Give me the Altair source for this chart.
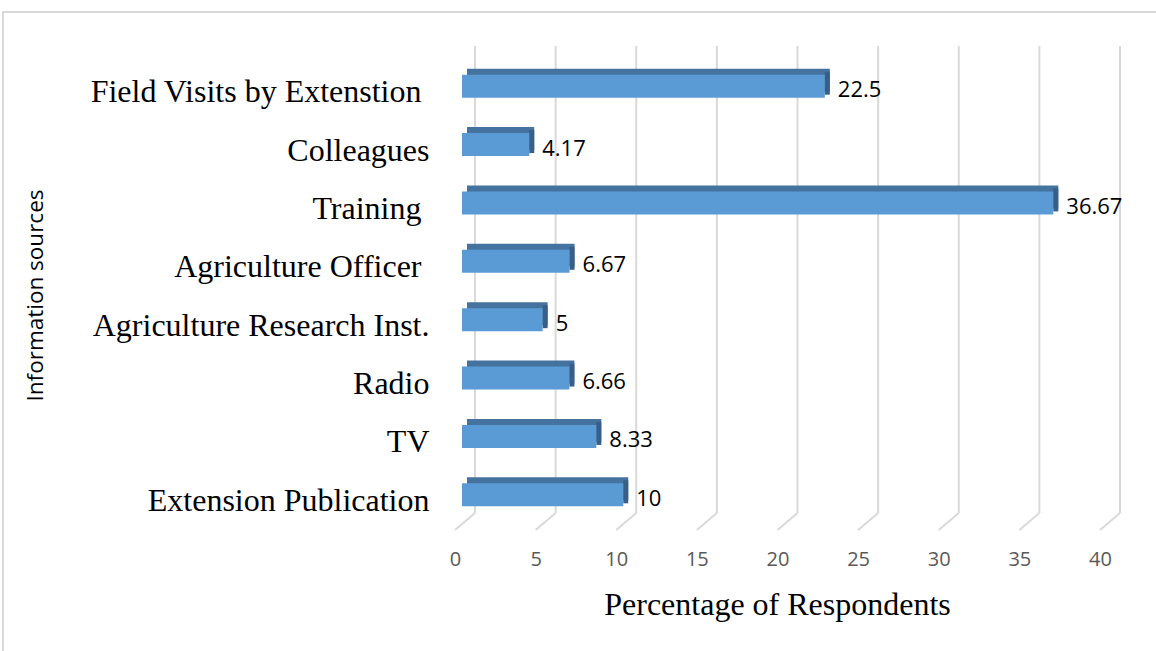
import altair as alt
import pandas as pd

sources = ["Field Visits by Extenstion\u00a0\u200b", "Colleagues", "Training\u00a0\u200b",
           "Agriculture Officer\u00a0\u200b", "Agriculture Research Inst.", "Radio", "TV",
           "Extension Publication"]
values = [22.5, 4.17, 36.67, 6.67, 5, 6.66, 8.33, 10]
value_labels = ["22.5", "4.17", "36.67", "6.67", "5", "6.66", "8.33", "10"]
ticks = [0, 5, 10, 15, 20, 25, 30, 35, 40]

df = pd.DataFrame({"source": sources, "value": values, "label": value_labels})
grid = pd.DataFrame({"t": ticks})

W, H = 645, 467
xscale = alt.Scale(domain=[0, 40], nice=False, zero=True)
yscale = alt.Scale(domain=sources, paddingInner=0.6, paddingOuter=0.3)

FRONT = "#5B9BD5"
TOP = "#44739F"
SIDE = "#375F87"
GRID = "#D9D9D9"

xaxis = alt.Axis(title="Percentage of Respondents", values=ticks, format="d",
                 domain=False, ticks=False, grid=False, labelFlush=False,
                 labelFont="Open Sans", labelFontSize=20, labelColor="#595959",
                 labelPadding=25, labelOffset=-7,
                 titleFont="Liberation Serif", titleFontSize=32, titleFontWeight="normal",
                 titleColor="#000000", titleX=315, titleY=80, titleBaseline="middle",
                 titleAlign="center")
yaxis = alt.Axis(title="Information sources", domain=False, ticks=False, grid=False,
                 labelFont="Liberation Serif", labelFontSize=32, labelColor="#000000",
                 labelPadding=33, labelLimit=600, labelOffset=6,
                 titleFont="Open Sans", titleFontSize=22.5, titleFontWeight="normal",
                 titleColor="#000000", titleX=-427, titleY=238, titleAngle=-90,
                 titleBaseline="middle", titleAlign="center")

gx = alt.X("t:Q", scale=xscale, axis=xaxis)
back_grid = alt.Chart(grid).mark_rule(color=GRID, strokeWidth=2, xOffset=13).encode(
    x=gx, y=alt.value(-11), y2=alt.value(456))
diag_grid = alt.Chart(grid).mark_rule(color=GRID, strokeWidth=2, xOffset=13, x2Offset=-7).encode(
    x=gx, x2="t:Q", y=alt.value(456), y2=alt.value(473))

border = alt.Chart(grid).mark_rect(fill=None, stroke=GRID, strokeWidth=1.5).encode(
    x=alt.value(-459), x2=alt.value(W + 80), y=alt.value(-45), y2=alt.value(H + 200))

ybar = alt.Y("source:N", scale=yscale, sort=sources, axis=yaxis)
xzero = alt.X("zero:Q", scale=xscale, axis=xaxis)
xval = alt.X("value:Q", scale=xscale, axis=xaxis)

top_face = alt.Chart(df).transform_calculate(zero="0").mark_bar(
    color=TOP, size=23, xOffset=5, x2Offset=5, yOffset=-6).encode(
    y=ybar, x=xzero, x2="value:Q")
side_face = alt.Chart(df).mark_bar(color=SIDE, size=23, xOffset=0, x2Offset=5, yOffset=-3).encode(
    y=ybar, x=xval, x2="value:Q")
front = alt.Chart(df).transform_calculate(zero="0").mark_bar(color=FRONT, size=23).encode(
    y=ybar, x=xzero, x2="value:Q")

text = alt.Chart(df).mark_text(align="left", baseline="middle", dx=13, dy=4,
                               font="Open Sans", fontSize=22, color="#000000").encode(
    y=ybar, x=xval, text="label:N")

chart = alt.layer(border, back_grid, diag_grid, top_face, side_face, front, text).properties(
    width=W, height=H,
    autosize=alt.AutoSizeParams(type="none"),
    padding={"left": 462, "top": 57, "right": 1156 - 462 - W, "bottom": 651 - 57 - H},
    background="white",
).configure_view(stroke=None)

chart.save("out.html", embed_options={"renderer": "svg", "actions": False})
